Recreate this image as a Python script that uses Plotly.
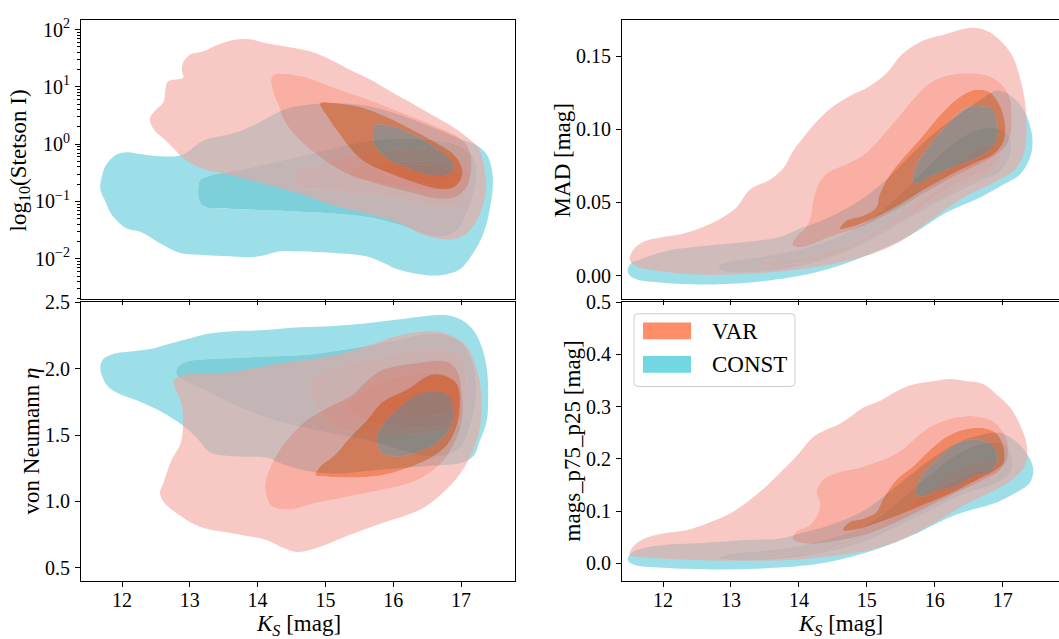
import math
import plotly.graph_objects as go

# KDE contour outlines, outermost level first. Each point is (K_S [mag], value).
# Stetson I values are given as log10(Stetson I).
stet_var_1 = [(12.41, 0.45), (12.49, 0.59), (12.61, 0.73), (12.64, 0.96), (12.68, 1.10), (12.90, 1.16),
              (12.88, 1.30), (12.90, 1.42), (13.00, 1.56), (13.20, 1.62), (13.40, 1.73), (13.64, 1.82),
              (13.89, 1.83), (14.13, 1.76), (14.43, 1.70), (14.77, 1.62), (15.07, 1.48), (15.36, 1.30),
              (15.66, 1.13), (15.95, 0.93), (16.25, 0.73), (16.54, 0.53), (16.84, 0.33), (17.08, 0.13),
              (17.26, -0.07), (17.33, -0.35), (17.37, -0.70), (17.33, -1.04), (17.23, -1.33), (17.08, -1.56),
              (16.89, -1.66), (16.64, -1.64), (16.40, -1.56), (16.10, -1.38), (15.61, -1.21), (15.12, -1.07),
              (14.63, -0.87), (14.13, -0.70), (13.64, -0.55), (13.15, -0.41), (12.90, -0.24), (12.76, -0.07),
              (12.61, 0.10), (12.46, 0.27)]
stet_var_2 = [(14.22, 1.20), (14.63, 1.19), (15.12, 0.99), (15.61, 0.79), (16.10, 0.56), (16.59, 0.33),
              (16.99, 0.10), (17.12, -0.10), (17.15, -0.40), (17.10, -0.70), (16.95, -0.90), (16.70, -0.95),
              (16.30, -0.85), (15.80, -0.70), (15.30, -0.50), (14.90, -0.20), (14.60, 0.10), (14.40, 0.40),
              (14.30, 0.70), (14.22, 0.95)]
stet_var_3 = [(14.92, 0.72), (15.12, 0.72), (15.51, 0.65), (15.85, 0.50), (16.25, 0.27), (16.59, 0.05),
              (16.89, -0.18), (17.01, -0.41), (17.01, -0.58), (16.89, -0.75), (16.69, -0.78), (16.40, -0.70),
              (16.00, -0.53), (15.61, -0.33), (15.41, -0.13), (15.22, 0.16), (15.02, 0.50)]
stet_var_4 = [(15.70, 0.22), (15.73, 0.33), (15.85, 0.34), (16.10, 0.27), (16.40, 0.10), (16.70, -0.13),
              (16.87, -0.30), (16.87, -0.47), (16.74, -0.55), (16.50, -0.53), (16.20, -0.41), (15.90, -0.24),
              (15.73, -0.01)]
stet_const_1 = [(11.68, -0.78), (11.70, -0.58), (11.77, -0.35), (11.92, -0.18), (12.07, -0.14), (12.31, -0.18),
                (12.56, -0.21), (12.88, -0.19), (13.20, 0.06), (13.64, 0.19), (13.94, 0.33), (14.13, 0.45),
                (14.43, 0.62), (14.82, 0.70), (15.12, 0.72), (15.61, 0.67), (16.10, 0.51), (16.59, 0.29),
                (16.99, 0.09), (17.23, -0.02), (17.38, -0.18), (17.45, -0.41), (17.47, -0.70), (17.43, -1.10),
                (17.33, -1.56), (17.18, -1.90), (16.99, -2.18), (16.79, -2.27), (16.54, -2.29), (16.25, -2.24),
                (16.05, -2.18), (15.85, -2.07), (15.61, -1.96), (15.12, -1.90), (14.63, -1.87), (14.33, -1.87),
                (14.13, -1.93), (13.94, -1.97), (13.64, -1.96), (13.15, -1.93), (12.86, -1.90), (12.56, -1.73),
                (12.27, -1.53), (12.07, -1.47), (11.92, -1.33), (11.82, -1.18), (11.77, -1.04)]
stet_const_2 = [(13.15, -1.01), (13.15, -0.64), (13.30, -0.55), (13.64, -0.47), (14.13, -0.35), (14.63, -0.21),
                (15.12, -0.07), (15.61, 0.05), (16.10, 0.10), (16.59, 0.07), (16.99, -0.04), (17.18, -0.24),
                (17.23, -0.53), (17.18, -0.87), (17.08, -1.21), (16.94, -1.50), (16.74, -1.61), (16.50, -1.58),
                (16.10, -1.41), (15.61, -1.27), (15.12, -1.21), (14.63, -1.18), (14.13, -1.15), (13.64, -1.13),
                (13.25, -1.10)]
stet_const_3 = [(14.53, -0.61), (14.63, -0.47), (14.87, -0.35), (15.36, -0.21), (15.85, -0.10), (16.35, -0.07),
                (16.74, -0.13), (17.03, -0.30), (17.13, -0.53), (17.11, -0.81), (17.01, -1.04), (16.84, -1.10),
                (16.59, -1.07), (16.10, -0.95), (15.61, -0.87), (15.12, -0.81), (14.72, -0.78), (14.58, -0.73)]
stet_const_4 = [(15.34, -0.50), (15.46, -0.41), (15.85, -0.33), (16.35, -0.30), (16.74, -0.35), (16.94, -0.47),
                (16.99, -0.64), (16.89, -0.78), (16.59, -0.81), (16.10, -0.75), (15.61, -0.64), (15.36, -0.59)]
stet_const_5 = [(15.80, -0.40), (16.20, -0.35), (16.60, -0.38), (16.83, -0.47), (16.83, -0.62), (16.60, -0.70),
                (16.20, -0.63), (15.90, -0.52)]

neu_var_1 = [(12.56, 1.07), (12.61, 1.14), (12.73, 1.31), (12.86, 1.43), (12.90, 1.56), (12.88, 1.73),
             (12.76, 1.91), (12.90, 1.95), (13.15, 1.96), (13.64, 1.975), (14.13, 2.02), (14.63, 2.06),
             (15.12, 2.10), (15.61, 2.17), (16.10, 2.25), (16.59, 2.28), (16.84, 2.25), (17.08, 2.17),
             (17.23, 2.00), (17.30, 1.80), (17.28, 1.56), (17.18, 1.39), (16.99, 1.21), (16.74, 1.07),
             (16.40, 0.94), (15.85, 0.84), (15.36, 0.75), (14.87, 0.65), (14.58, 0.62), (14.38, 0.65),
             (14.13, 0.71), (13.64, 0.76), (13.15, 0.81), (12.81, 0.91), (12.61, 1.00)]
neu_var_2 = [(14.11, 1.12), (14.18, 1.25), (14.33, 1.39), (14.50, 1.50), (14.75, 1.62), (15.10, 1.72),
             (15.40, 1.80), (15.60, 1.90), (15.85, 1.99), (16.35, 2.04), (16.79, 2.05), (16.94, 1.98),
             (17.01, 1.80), (17.01, 1.61), (16.89, 1.43), (16.69, 1.28), (16.35, 1.16), (15.85, 1.09),
             (15.36, 1.04), (14.87, 0.99), (14.48, 0.94), (14.20, 0.97)]
neu_var_3 = [(14.85, 1.20), (14.92, 1.26), (15.12, 1.34), (15.36, 1.48), (15.61, 1.61), (15.85, 1.75),
             (16.20, 1.84), (16.54, 1.95), (16.74, 1.95), (16.94, 1.88), (16.98, 1.71), (16.93, 1.56),
             (16.80, 1.43), (16.59, 1.34), (16.25, 1.26), (15.85, 1.20), (15.36, 1.18), (14.97, 1.19)]
neu_var_4 = [(15.76, 1.46), (15.85, 1.58), (16.10, 1.71), (16.35, 1.80), (16.59, 1.83), (16.81, 1.80),
             (16.89, 1.68), (16.84, 1.56), (16.69, 1.46), (16.44, 1.39), (16.10, 1.34), (15.85, 1.36)]
neu_const_1 = [(11.68, 2.00), (11.72, 2.07), (11.87, 2.11), (12.17, 2.13), (12.46, 2.15), (12.66, 2.18),
               (12.95, 2.22), (13.25, 2.26), (13.64, 2.28), (14.13, 2.29), (14.63, 2.31), (15.12, 2.32),
               (15.61, 2.34), (16.10, 2.37), (16.59, 2.40), (16.79, 2.40), (16.99, 2.37), (17.18, 2.29),
               (17.30, 2.17), (17.38, 2.00), (17.40, 1.80), (17.38, 1.61), (17.28, 1.46), (17.18, 1.34),
               (16.99, 1.29), (16.59, 1.27), (16.10, 1.25), (15.61, 1.23), (15.12, 1.21), (14.63, 1.24),
               (14.33, 1.29), (14.13, 1.33), (13.64, 1.34), (13.30, 1.37), (13.10, 1.48), (12.90, 1.57),
               (12.56, 1.68), (12.27, 1.75), (11.92, 1.82), (11.77, 1.88)]
neu_const_2 = [(12.81, 2.00), (12.95, 2.05), (13.25, 2.07), (13.64, 2.08), (14.13, 2.09), (14.63, 2.10),
               (15.12, 2.13), (15.61, 2.17), (16.10, 2.22), (16.50, 2.26), (16.79, 2.25), (16.99, 2.20),
               (17.13, 2.10), (17.21, 1.95), (17.21, 1.75), (17.13, 1.56), (16.99, 1.41), (16.79, 1.35),
               (16.50, 1.34), (16.10, 1.39), (15.61, 1.46), (15.12, 1.51), (14.63, 1.56), (14.13, 1.63),
               (13.64, 1.73), (13.25, 1.83), (12.95, 1.90), (12.81, 1.95)]
neu_const_3 = [(14.77, 1.82), (14.77, 1.90), (14.87, 1.95), (15.36, 2.04), (15.85, 2.09), (16.35, 2.14),
               (16.74, 2.14), (16.99, 2.09), (17.08, 1.93), (17.06, 1.73), (16.94, 1.58), (16.59, 1.52),
               (16.10, 1.50), (15.61, 1.51), (15.12, 1.57), (14.87, 1.71)]
neu_const_4 = [(15.30, 1.72), (15.60, 1.85), (16.00, 1.93), (16.50, 1.97), (16.85, 1.95), (17.00, 1.85),
               (16.98, 1.70), (16.85, 1.60), (16.50, 1.56), (16.00, 1.57), (15.60, 1.61)]
neu_const_5 = [(15.90, 1.72), (16.30, 1.82), (16.70, 1.85), (16.90, 1.78), (16.85, 1.68), (16.50, 1.64),
               (16.10, 1.65)]

mad_var_1 = [(11.51, 0.0108), (11.56, 0.0175), (11.71, 0.0231), (12.00, 0.0264), (12.29, 0.0287), (12.59, 0.0332),
             (12.88, 0.0399), (13.08, 0.0466), (13.28, 0.0589), (13.57, 0.0656), (13.77, 0.0735), (13.91, 0.0847),
             (14.21, 0.1026), (14.45, 0.1138), (14.75, 0.1228), (15.04, 0.1295), (15.29, 0.1384), (15.53, 0.1519),
             (15.83, 0.1608), (16.17, 0.1653), (16.42, 0.1687), (16.61, 0.1694), (16.81, 0.1664), (17.01, 0.1586),
             (17.15, 0.1496), (17.25, 0.1362), (17.33, 0.1183), (17.35, 0.1048), (17.33, 0.0869), (17.20, 0.0735),
             (16.91, 0.0645), (16.42, 0.0533), (15.93, 0.0376), (15.44, 0.0220), (14.95, 0.0130), (14.45, 0.0074),
             (13.96, 0.0040), (13.47, 0.0018), (12.98, 0.0007), (12.49, 0.0007), (12.00, 0.0029), (11.61, 0.0063)]
mad_var_2 = [(13.91, 0.0208), (13.96, 0.0264), (14.11, 0.0332), (14.18, 0.0421), (14.21, 0.0511), (14.31, 0.0645),
             (14.45, 0.0712), (14.70, 0.0762), (14.95, 0.0824), (15.19, 0.0936), (15.44, 0.1071), (15.68, 0.1205),
             (15.93, 0.1317), (16.22, 0.1373), (16.52, 0.1384), (16.81, 0.1362), (17.01, 0.1295), (17.11, 0.1205),
             (17.13, 0.1093), (17.11, 0.0959), (17.01, 0.0869), (16.81, 0.0802), (16.42, 0.0712), (15.93, 0.0589),
             (15.44, 0.0455), (14.95, 0.0343), (14.45, 0.0264), (14.06, 0.0197)]
mad_var_3 = [(14.60, 0.0320), (14.70, 0.0376), (14.95, 0.0410), (15.14, 0.0466), (15.19, 0.0556), (15.34, 0.0690),
             (15.53, 0.0802), (15.83, 0.0959), (16.07, 0.1093), (16.32, 0.1205), (16.61, 0.1272), (16.81, 0.1254),
             (16.96, 0.1160), (17.03, 0.1048), (17.01, 0.0914), (16.86, 0.0830), (16.61, 0.0775), (16.27, 0.0700),
             (15.83, 0.0585), (15.44, 0.0475), (15.04, 0.0380), (14.75, 0.0330)]
mad_var_4 = [(15.68, 0.0645), (15.73, 0.0757), (15.93, 0.0892), (16.17, 0.1026), (16.42, 0.1138), (16.61, 0.1160),
             (16.84, 0.1138), (16.91, 0.1048), (16.89, 0.0914), (16.76, 0.0840), (16.52, 0.0785), (16.22, 0.0735),
             (15.93, 0.0680), (15.73, 0.0630)]
mad_const_1 = [(11.48, 0.0029), (11.53, 0.0085), (11.71, 0.0119), (12.00, 0.0164), (12.49, 0.0197), (13.23, 0.0231),
               (13.72, 0.0264), (14.01, 0.0320), (14.45, 0.0399), (14.95, 0.0530), (15.34, 0.0680), (15.68, 0.0840),
               (15.98, 0.0970), (16.32, 0.1090), (16.66, 0.1200), (16.92, 0.1265), (17.12, 0.1230), (17.30, 0.1140),
               (17.40, 0.1030), (17.44, 0.0914), (17.40, 0.0802), (17.25, 0.0690), (17.01, 0.0623), (16.66, 0.0533),
               (16.17, 0.0432), (15.68, 0.0287), (15.19, 0.0175), (14.70, 0.0085), (14.21, 0.0018),
               (13.47, -0.0038), (12.74, -0.0060), (12.00, -0.0049), (11.56, -0.0016)]
mad_const_2 = [(12.81, 0.0063), (12.98, 0.0096), (13.47, 0.0130), (13.96, 0.0175), (14.45, 0.0242), (14.95, 0.0354),
               (15.44, 0.0533), (15.93, 0.0760), (16.32, 0.0920), (16.66, 0.1000), (16.96, 0.1000), (17.11, 0.0936),
               (17.11, 0.0824), (16.96, 0.0712), (16.66, 0.0645), (16.17, 0.0533), (15.68, 0.0410), (15.19, 0.0276),
               (14.70, 0.0164), (14.21, 0.0085), (13.72, 0.0040), (13.23, 0.0022), (12.88, 0.0034)]
mad_const_3 = [(13.42, 0.0090), (13.96, 0.0119), (14.45, 0.0175), (14.95, 0.0264), (15.44, 0.0410), (15.93, 0.0610),
               (16.37, 0.0785), (16.71, 0.0890), (16.91, 0.0885), (16.98, 0.0802), (16.81, 0.0701), (16.42, 0.0612),
               (15.93, 0.0488), (15.44, 0.0354), (14.95, 0.0231), (14.45, 0.0130), (13.96, 0.0085), (13.47, 0.0067)]
mad_const_4 = [(15.60, 0.0420), (16.00, 0.0575), (16.40, 0.0720), (16.70, 0.0820), (16.88, 0.0840), (16.92, 0.0800),
               (16.80, 0.0730), (16.40, 0.0650), (16.00, 0.0540), (15.70, 0.0440)]

iqr_var_1 = [(11.51, 0.0163), (11.56, 0.0320), (11.71, 0.0464), (12.00, 0.0570), (12.34, 0.0633), (12.64, 0.0758),
             (12.98, 0.0946), (13.23, 0.1165), (13.47, 0.1416), (13.72, 0.1729), (13.96, 0.2043), (14.21, 0.2419),
             (14.38, 0.2544), (14.60, 0.2669), (14.75, 0.2794), (14.95, 0.2982), (15.19, 0.3108), (15.44, 0.3296),
             (15.68, 0.3421), (16.03, 0.3496), (16.22, 0.3528), (16.42, 0.3496), (16.71, 0.3434), (16.91, 0.3233),
             (17.11, 0.2982), (17.25, 0.2669), (17.35, 0.2293), (17.34, 0.1917), (17.20, 0.1667), (16.91, 0.1416),
             (16.42, 0.1103), (15.93, 0.0727), (15.44, 0.0414), (14.95, 0.0226), (14.45, 0.0132), (13.96, 0.0069),
             (13.47, 0.0050), (12.98, 0.0050), (12.49, 0.0063), (12.00, 0.0088), (11.66, 0.0113)]
iqr_var_2 = [(13.91, 0.0476), (13.96, 0.0602), (14.16, 0.0727), (14.28, 0.0946), (14.31, 0.1165), (14.26, 0.1353),
             (14.36, 0.1604), (14.55, 0.1729), (14.95, 0.1855), (15.44, 0.2105), (15.93, 0.2607), (16.32, 0.2794),
             (16.66, 0.2807), (16.91, 0.2669), (17.06, 0.2356), (17.06, 0.1980), (16.96, 0.1792), (16.71, 0.1604),
             (16.42, 0.1416), (15.93, 0.1103), (15.44, 0.0789), (14.95, 0.0539), (14.45, 0.0414), (14.06, 0.0382)]
iqr_var_3 = [(14.65, 0.0633), (14.75, 0.0789), (14.95, 0.0852), (15.14, 0.0977), (15.24, 0.1228), (15.44, 0.1604),
             (15.68, 0.1855), (15.93, 0.2168), (16.17, 0.2419), (16.42, 0.2556), (16.71, 0.2588), (16.91, 0.2481),
             (17.01, 0.2231), (17.01, 0.1917), (16.86, 0.1760), (16.62, 0.1600), (16.17, 0.1300), (15.68, 0.1040),
             (15.19, 0.0789), (14.85, 0.0652)]
iqr_var_4 = [(15.73, 0.1353), (15.78, 0.1604), (16.03, 0.1980), (16.32, 0.2293), (16.57, 0.2368), (16.81, 0.2293),
             (16.93, 0.2043), (16.82, 0.1760), (16.60, 0.1680), (16.32, 0.1491), (16.03, 0.1385), (15.78, 0.1278)]
iqr_const_1 = [(11.48, 0.0069), (11.53, 0.0194), (11.71, 0.0288), (12.00, 0.0351), (12.49, 0.0382), (13.23, 0.0445),
               (13.72, 0.0476), (14.01, 0.0570), (14.45, 0.0727), (14.95, 0.1000), (15.44, 0.1480), (15.93, 0.1980),
               (16.32, 0.2300), (16.66, 0.2450), (16.95, 0.2500), (17.20, 0.2330), (17.38, 0.2050), (17.45, 0.1792),
               (17.40, 0.1541), (17.20, 0.1353), (16.91, 0.1165), (16.42, 0.0977), (16.17, 0.0852), (15.68, 0.0539),
               (15.19, 0.0288), (14.70, 0.0100), (14.21, -0.0025), (13.47, -0.0100), (12.74, -0.0119),
               (12.00, -0.0088), (11.56, -0.0025)]
iqr_const_2 = [(12.81, 0.0100), (12.98, 0.0175), (13.47, 0.0238), (13.96, 0.0320), (14.45, 0.0476), (14.95, 0.0700),
               (15.44, 0.1150), (15.93, 0.1700), (16.32, 0.2080), (16.66, 0.2280), (17.01, 0.2280), (17.13, 0.2043),
               (17.11, 0.1729), (16.91, 0.1541), (16.42, 0.1322), (15.93, 0.1009), (15.44, 0.0695), (14.95, 0.0414),
               (14.45, 0.0226), (13.96, 0.0113), (13.47, 0.0063), (12.98, 0.0063)]
iqr_const_3 = [(13.47, 0.0150), (13.96, 0.0220), (14.45, 0.0350), (14.95, 0.0560), (15.44, 0.0950), (15.93, 0.1450),
               (16.37, 0.1800), (16.71, 0.1960), (16.91, 0.1960), (16.98, 0.1800), (16.81, 0.1600), (16.42, 0.1400),
               (15.93, 0.1120), (15.44, 0.0800), (14.95, 0.0500), (14.45, 0.0290), (13.96, 0.0180), (13.47, 0.0120)]
iqr_const_4 = [(15.60, 0.1050), (16.00, 0.1380), (16.40, 0.1650), (16.70, 0.1790), (16.90, 0.1810), (16.92, 0.1720),
               (16.75, 0.1630), (16.40, 0.1500), (16.00, 0.1270), (15.70, 0.1080)]

classes = ["VAR", "CONST"]
ks_ticks = [12, 13, 14, 15, 16, 17]
stet_ticks = [-2, -1, 0, 1, 2]
stet_ticktext = ["10<sup>\u22122</sup>", "10<sup>\u22121</sup>", "10<sup>0</sup>", "10<sup>1</sup>", "10<sup>2</sup>"]
neu_ticks = [0.5, 1.0, 1.5, 2.0, 2.5]
neu_ticktext = ["0.5", "1.0", "1.5", "2.0", "2.5"]
mad_ticks = [0.0, 0.05, 0.10, 0.15]
mad_ticktext = ["0.00", "0.05", "0.10", "0.15"]
iqr_ticks = [0.0, 0.1, 0.2, 0.3, 0.4, 0.5]
iqr_ticktext = ["0.0", "0.1", "0.2", "0.3", "0.4", "0.5"]

# ---------------------------------------------------------------- styling
W, H = 1059, 639
SERIF = "Liberation Serif"
VAR_FILL = ["rgba(241,163,157,0.6)", "rgba(247,122,105,0.6)", "rgba(235,70,15,0.65)", "rgba(150,88,75,0.62)"]
CONST_FILL = ["rgba(92,202,217,0.6)", "rgba(38,177,193,0.6)", "rgba(70,155,163,0.6)",
              "rgba(85,135,140,0.6)", "rgba(100,125,128,0.6)"]
LEGEND_COLORS = {"VAR": "rgb(255,141,104)", "CONST": "rgb(113,215,225)"}


def signed_area(poly):
    s = 0.0
    for (x0, y0), (x1, y1) in zip(poly, poly[1:] + poly[:1]):
        s += x0 * y1 - x1 * y0
    return 0.5 * s


def band(outer, inner):
    """Filled region between two contour levels (outer ring with inner hole)."""
    xs = [p[0] for p in outer] + [outer[0][0]]
    ys = [p[1] for p in outer] + [outer[0][1]]
    if inner is not None:
        ring = list(inner)
        if (signed_area(ring) > 0) == (signed_area(outer) > 0):
            ring = ring[::-1]
        xs += [None] + [p[0] for p in ring] + [ring[0][0]]
        ys += [None] + [p[1] for p in ring] + [ring[0][1]]
    return xs, ys


fig = go.Figure()


def add_levels(levels, fills, xa, ya):
    for i, poly in enumerate(levels):
        inner = levels[i + 1] if i + 1 < len(levels) else None
        xs, ys = band(poly, inner)
        fig.add_trace(go.Scatter(
            x=xs, y=ys, xaxis=xa, yaxis=ya, mode="lines", fill="toself",
            fillcolor=fills[i], line=dict(width=0, shape="spline", smoothing=1.0),
            hoverinfo="skip", showlegend=False))


panels = [
    ("x", "y", [stet_const_1, stet_const_2, stet_const_3, stet_const_4, stet_const_5],
     [stet_var_1, stet_var_2, stet_var_3, stet_var_4]),
    ("x2", "y2", [neu_const_1, neu_const_2, neu_const_3, neu_const_4, neu_const_5],
     [neu_var_1, neu_var_2, neu_var_3, neu_var_4]),
    ("x3", "y3", [mad_const_1, mad_const_2, mad_const_3, mad_const_4],
     [mad_var_1, mad_var_2, mad_var_3, mad_var_4]),
    ("x4", "y4", [iqr_const_1, iqr_const_2, iqr_const_3, iqr_const_4],
     [iqr_var_1, iqr_var_2, iqr_var_3, iqr_var_4]),
]
for xa, ya, const_levels, var_levels in panels:
    add_levels(const_levels, CONST_FILL, xa, ya)
    add_levels(var_levels, VAR_FILL, xa, ya)

# ---------------------------------------------------------------- axes
xd_left = [81 / W, 515 / W]
xd_right = [622 / W, 1.0]
yd_top = [1 - 293.5 / H, 1 - 9 / H]
yd_bot = [1 - 580 / H, 1 - 296 / H]

common = dict(showline=True, linecolor="black", linewidth=1, ticks="outside", ticklen=5,
              tickwidth=1, tickcolor="black", showgrid=False, zeroline=False)

stet_minor = [n + math.log10(k) for n in range(-3, 3) for k in range(2, 10)]
stet_minor = [v for v in stet_minor if -2.71 < v < 2.17]

fig.update_layout(
    width=W, height=H, margin=dict(l=0, r=0, t=0, b=0),
    font=dict(family=SERIF, size=20, color="black"),
    paper_bgcolor="white", plot_bgcolor="white", showlegend=False,
    xaxis=dict(domain=xd_left, anchor="y", range=[11.395, 17.796], tickvals=ks_ticks,
               showticklabels=False, mirror=True, **common),
    yaxis=dict(domain=yd_top, anchor="x", range=[-2.71, 2.17], tickvals=stet_ticks,
               ticktext=stet_ticktext, mirror=True,
               minor=dict(tickmode="array", tickvals=stet_minor, ticks="outside", ticklen=3,
                          tickwidth=1, tickcolor="black"), **common),
    xaxis2=dict(domain=xd_left, anchor="y2", range=[11.395, 17.796], tickvals=ks_ticks,
                ticktext=[str(v) for v in ks_ticks], mirror=True, **common),
    yaxis2=dict(domain=yd_bot, anchor="x2", range=[0.402, 2.501], tickvals=neu_ticks,
                ticktext=neu_ticktext, mirror=True, **common),
    xaxis3=dict(domain=xd_right, anchor="y3", range=[11.396, 17.829], tickvals=ks_ticks,
                showticklabels=False, mirror=True, **common),
    yaxis3=dict(domain=yd_top, anchor="x3", range=[-0.0163, 0.1749], tickvals=mad_ticks,
                ticktext=mad_ticktext, mirror=False, **common),
    xaxis4=dict(domain=xd_right, anchor="y4", range=[11.396, 17.829], tickvals=ks_ticks,
                ticktext=[str(v) for v in ks_ticks], mirror=True, **common),
    yaxis4=dict(domain=yd_bot, anchor="x4", range=[-0.034, 0.5005], tickvals=iqr_ticks,
                ticktext=iqr_ticktext, mirror=False, **common),
)
fig.update_xaxes(tickfont=dict(family=SERIF, size=20, color="black"), ticklabelstandoff=-4)
fig.update_yaxes(tickfont=dict(family=SERIF, size=20, color="black"), ticklabelstandoff=1)

# ---------------------------------------------------------------- axis titles
title_font = dict(family=SERIF, size=23, color="black")
annotations = [
    dict(text="log<sub>10</sub>(Stetson I)", x=20 / W, y=1 - 152 / H, textangle=-90),
    dict(text="von Neumann <i>\u03b7</i>", x=31 / W, y=1 - 438 / H, textangle=-90),
    dict(text="MAD [mag]", x=562 / W, y=1 - 152 / H, textangle=-90),
    dict(text="mags_p75_p25 [mag]", x=572 / W, y=1 - 438 / H, textangle=-90),
    dict(text="<i>K</i><sub><i>S</i></sub> [mag]", x=298 / W, y=1 - 625 / H, textangle=0),
    dict(text="<i>K</i><sub><i>S</i></sub> [mag]", x=840 / W, y=1 - 625 / H, textangle=0),
]
for a in annotations:
    fig.add_annotation(xref="paper", yref="paper", xanchor="center", yanchor="middle",
                       showarrow=False, font=title_font, **a)

# ---------------------------------------------------------------- legend box
lx0, lx1, ly0, ly1 = 634 / W, 795 / W, 1 - 382 / H, 1 - 308 / H
rx, ry = 4 / W, 4 / H
legend_path = (f"M {lx0 + rx},{ly1} L {lx1 - rx},{ly1} Q {lx1},{ly1} {lx1},{ly1 - ry} "
               f"L {lx1},{ly0 + ry} Q {lx1},{ly0} {lx1 - rx},{ly0} L {lx0 + rx},{ly0} "
               f"Q {lx0},{ly0} {lx0},{ly0 + ry} L {lx0},{ly1 - ry} Q {lx0},{ly1} {lx0 + rx},{ly1} Z")
fig.add_shape(type="path", path=legend_path, xref="paper", yref="paper",
              fillcolor="rgba(255,255,255,0.8)", line=dict(color="rgb(204,204,204)", width=1))
for i, name in enumerate(classes):
    top = 317 + 34 * i
    fig.add_shape(type="rect", xref="paper", yref="paper",
                  x0=643 / W, x1=691 / W, y0=1 - (top + 17) / H, y1=1 - top / H,
                  fillcolor=LEGEND_COLORS[name], line=dict(width=0))
    fig.add_annotation(xref="paper", yref="paper", x=710 / W, y=1 - (top + 9) / H,
                       xanchor="left", yanchor="middle", showarrow=False, text=name,
                       font=dict(family=SERIF, size=23, color="black"))

fig.write_html("out.html")
